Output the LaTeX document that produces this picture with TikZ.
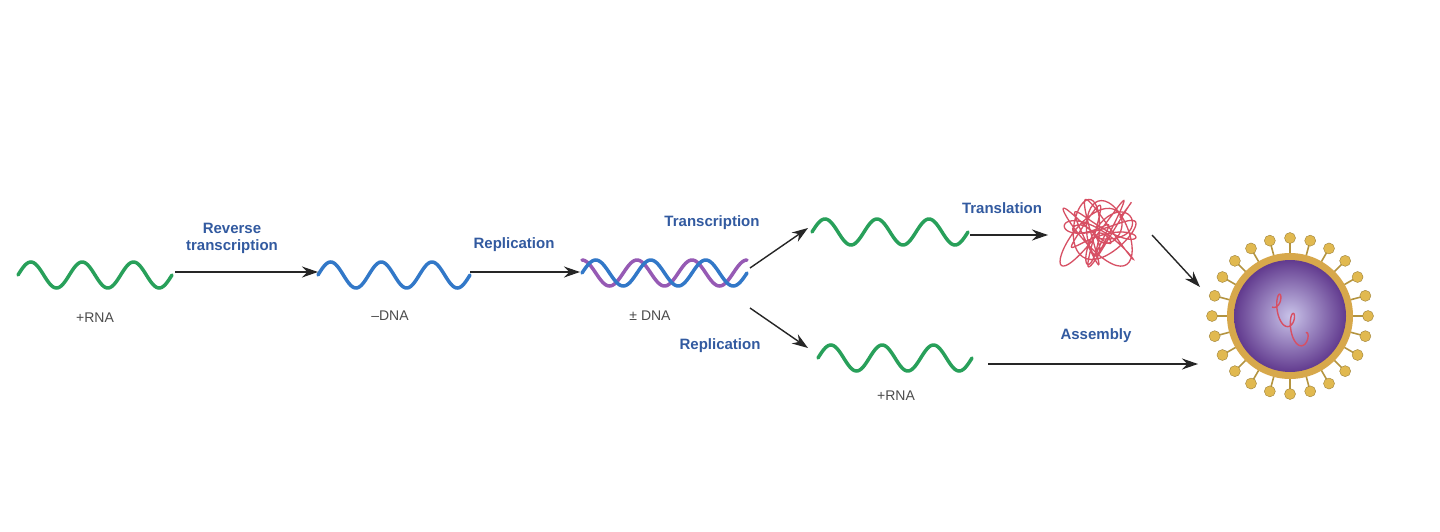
\documentclass[tikz,border=0pt]{standalone}
\usepackage{fontspec}
\setmainfont{Liberation Sans}
\usetikzlibrary{arrows.meta}
\definecolor{rnagreen}{RGB}{40,160,90}
\definecolor{dnablue}{RGB}{50,120,200}
\definecolor{dnapurple}{RGB}{150,90,180}
\definecolor{lblue}{RGB}{50,90,160}
\definecolor{tangle}{RGB}{215,80,100}
\definecolor{spike}{RGB}{225,185,80}
\definecolor{sphere}{RGB}{120,105,200}
\begin{document}
\begin{tikzpicture}[x=1pt,y=-1pt,
  lab/.style={font=\bfseries\fontsize{15}{17}\selectfont,text=lblue,align=center},
  mol/.style={font=\fontsize{14}{16}\selectfont,text=black!70},
  arr/.style={-{Stealth[length=16pt,width=11pt]},line width=1.4pt,black!85},
  wave/.style={line width=3.5pt,line cap=round}]
\useasboundingbox (0,0) rectangle (1440,532);
\fill[white] (0,0) rectangle (1440,532);
% waves
\draw[wave,rnagreen] plot[domain=0:154,samples=120,smooth] ({\x+18},{275-13*sin(\x/154*3*360)});
\draw[wave,dnablue] plot[domain=0:152,samples=120,smooth] ({\x+318},{275-13*sin(\x/152*3*360)});
\draw[wave,dnapurple] plot[domain=0:165,samples=120,smooth] ({\x+582},{273-13*sin(\x/165*3*360+90)});
\draw[wave,dnablue] plot[domain=0:165,samples=120,smooth] ({\x+582},{273-13*sin(\x/165*3*360)});
\draw[wave,rnagreen] plot[domain=0:156,samples=120,smooth] ({\x+812},{232-13*sin(\x/156*3*360)});
\draw[wave,rnagreen] plot[domain=0:154,samples=120,smooth] ({\x+818},{358-13*sin(\x/154*3*360)});
\coordinate (w1) at (175,272); \coordinate (w2) at (318,272);
\coordinate (w3) at (470,272); \coordinate (w4) at (580,272);
\coordinate (d1) at (750,268); \coordinate (g1) at (808,228);
\coordinate (d2) at (750,308); \coordinate (g2) at (808,348);
\coordinate (g1e) at (970,235); \coordinate (p) at (1048,235);
\coordinate (pe) at (1152,235); \coordinate (v1) at (1200,287);
\coordinate (g2e) at (988,364); \coordinate (v2) at (1198,364);
\draw[arr] (w1)--(w2);
\draw[arr] (w3)--(w4);
\draw[arr] (d1)--(g1);
\draw[arr] (d2)--(g2);
\draw[arr] (g1e)--(p);
\draw[arr] (pe)--(v1);
\draw[arr] (g2e)--(v2);
% labels
\node[lab] (l1) at (232,238) {Reverse\\transcription};
\node[lab] (l2) at (514,245) {Replication};
\node[lab] (l3) at (712,223) {Transcription};
\node[lab] (l4) at (720,346) {Replication};
\node[lab] (l5) at (1002,208) {Translation};
\node[lab] (l6) at (1096,336) {Assembly};
\node[mol] (m1) at (95,318) {+RNA};
\node[mol] (m2) at (390,316) {–DNA};
\node[mol] (m3) at (650,316) {± DNA};
\node[mol] (m4) at (896,396) {+RNA};
% protein tangle
\draw[tangle,line width=1.3pt] plot[domain=0:2880,samples=500,smooth]
 ({1098+38*sin(\x*1.3)*cos(\x*0.37)},{233+34*cos(\x*1.7+20)*sin(\x*0.29+10)});
% virus
\foreach \a in {0,15,...,345}{
  \draw[spike!80!black,line width=1.6pt] ({1290+60*cos(\a)},{316+60*sin(\a)})--({1290+74*cos(\a)},{316+74*sin(\a)});
  \fill[spike,draw=spike!70!black] ({1290+78*cos(\a)},{316+78*sin(\a)}) circle (5.5);
}
\fill[spike!70!brown] (1290,316) circle (63);
\shade[inner color=sphere!40!white,outer color=sphere!70!violet!80!black] (1290,316) circle (56);
\draw[tangle,line width=1.4pt] plot[domain=0:900,samples=150,smooth]
 ({1272+\x/900*34+5*sin(\x)},{296+\x/900*48+11*cos(\x)});
\end{tikzpicture}
\end{document}
